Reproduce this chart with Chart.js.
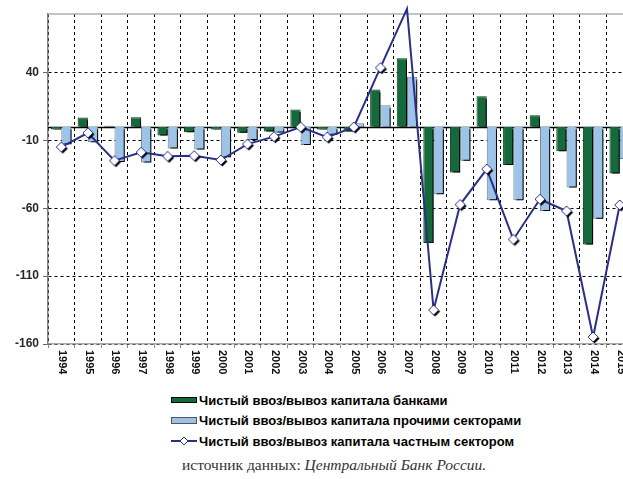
<!DOCTYPE html>
<html>
<head>
<meta charset="utf-8">
<script src="https://cdn.jsdelivr.net/npm/chart.js@4.4.1/dist/chart.umd.min.js"></script>
<style>
html,body{margin:0;padding:0;background:#fff;overflow:hidden;width:623px;height:479px;}
#wrap{position:absolute;left:0;top:0;width:640px;height:390px;}
#legend{position:absolute;left:171px;top:390px;font:bold 13px "Liberation Sans",Arial,sans-serif;color:#000;}
.row{height:20.5px;display:flex;align-items:center;white-space:nowrap;}
.sw{width:26px;margin-right:2px;box-sizing:border-box;}
#src{position:absolute;left:182px;top:456px;font:15.5px "Liberation Serif","Times New Roman",serif;color:#333;white-space:nowrap;}
#src i{font-style:italic;}
</style>
</head>
<body>
<div id="wrap"><canvas id="c" width="640" height="390"></canvas></div>
<div id="legend"></div>
<div id="src">источник данных: <i>Центральный Банк России.</i></div>
<script>
const years = ["1994","1995","1996","1997","1998","1999","2000","2001","2002","2003","2004","2005","2006","2007","2008","2009","2010","2011","2012","2013","2014","2015"];
const banks = [-2, 6.7, 0.7, 7, -6.5, -4, -2, -4.5, -3.5, 12.6, -2, -3.5, 27.4, 50.4, -85.6, -33.7, 22.5, -28.2, 8.4, -18.1, -86.8, -34.4];
const others = [-13, -11.4, -26, -26.3, -16, -16.8, -22.5, -9.7, -4.2, -13.4, -6, 2.5, 15.8, 36.8, -49.7, -25, -54.2, -54.2, -62, -44.8, -67.8, -23.8];
const privateSector = [-15, -4.5, -25, -18.8, -21.8, -21.3, -24.5, -12.8, -7.3, -0.3, -7.7, -0.3, 43.5, 86.8, -135, -57.3, -31.2, -83, -53.4, -62.1, -154.8, -57.6];
const yTicks = [40, -10, -60, -110, -160];
const labels = {
  banks: "Чистый ввоз/вывоз капитала банками",
  others: "Чистый ввоз/вывоз капитала прочими секторами",
  priv: "Чистый ввоз/вывоз капитала частным сектором"
};

const GREEN = '#15693a', BLUE = '#9dc3e6', NAVY = '#2b2f86';

function makeDiamond(){
  const c = document.createElement('canvas'); c.width = 18; c.height = 18;
  const g = c.getContext('2d');
  const d = (cx, cy, r) => { g.beginPath(); g.moveTo(cx, cy-r); g.lineTo(cx+r, cy); g.lineTo(cx, cy+r); g.lineTo(cx-r, cy); g.closePath(); };
  d(10.5, 10.5, 5); g.fillStyle = '#000'; g.fill();
  d(9, 9, 5); g.fillStyle = '#fff'; g.fill(); g.lineWidth = 1; g.strokeStyle = NAVY; g.stroke();
  return c;
}
const diamond = makeDiamond();

const shadowPlugin = {
  id: 'shadow',
  beforeDatasetDraw(chart, args){
    if (args.meta.type === 'bar') {
      const ctx = chart.ctx; ctx.save();
      ctx.shadowColor = '#000'; ctx.shadowOffsetX = 2.5; ctx.shadowOffsetY = 2.5; ctx.shadowBlur = 0;
    }
  },
  afterDatasetDraw(chart, args){
    if (args.meta.type === 'bar') chart.ctx.restore();
  }
};

const framePlugin = {
  id: 'frame',
  beforeDatasetsDraw(chart){
    const {ctx, chartArea: a, scales: {y}} = chart;
    ctx.save();
    ctx.strokeStyle = '#b0b0b0'; ctx.lineWidth = 1.5;
    ctx.beginPath(); ctx.moveTo(a.left, a.top); ctx.lineTo(a.right, a.top); ctx.lineTo(a.right, a.bottom); ctx.stroke();
    const y0 = Math.round(y.getPixelForValue(0)) + 0.5;
    ctx.strokeStyle = '#000'; ctx.lineWidth = 1.3;
    ctx.beginPath(); ctx.moveTo(a.left, y0); ctx.lineTo(a.right, y0); ctx.stroke();
    ctx.restore();
  },
  afterDraw(chart){
    const {ctx, chartArea: a, scales: {x}} = chart;
    ctx.save();
    ctx.font = 'bold 11px "Liberation Sans", Arial, sans-serif';
    ctx.fillStyle = '#111';
    ctx.textAlign = 'left'; ctx.textBaseline = 'middle';
    years.forEach((yr, i) => {
      const px = x.getPixelForValue(i);
      ctx.save(); ctx.translate(px + 1, a.bottom + 6); ctx.rotate(Math.PI / 2);
      ctx.fillText(yr, 0, 0); ctx.restore();
    });
    ctx.restore();
  }
};

const chart = new Chart(document.getElementById('c'), {
  data: {
    labels: years,
    datasets: [
      { type: 'line', label: labels.priv, data: privateSector, borderColor: NAVY, borderWidth: 2,
        pointStyle: diamond, pointRadius: 2, pointHoverRadius: 0, pointBorderWidth: 0, pointHitRadius: 4,
        tension: 0, clip: false, order: 0 },
      { type: 'bar', label: labels.banks, data: banks, backgroundColor: GREEN, borderColor: '#0a3a1a', borderWidth: 1,
        categoryPercentage: 0.77, barPercentage: 1, order: 1 },
      { type: 'bar', label: labels.others, data: others, backgroundColor: BLUE, borderColor: '#6f7f8f', borderWidth: 1,
        categoryPercentage: 0.77, barPercentage: 1, order: 1 }
    ]
  },
  options: {
    responsive: false,
    animation: false,
    layout: { padding: { top: 14, right: 7, left: 0, bottom: 0 } },
    plugins: { legend: { display: false }, tooltip: { enabled: false } },
    scales: {
      x: {
        offset: true,
        grid: { display: true, offset: true, color: '#000', lineWidth: 1, tickLength: 4, tickColor: '#888' },
        border: { display: true, color: '#a8a8a8', width: 1.5, dash: [3, 3] },
        ticks: { display: false },
        afterFit(s){ s.height = 46; }
      },
      y: {
        min: -160, max: 83,
        afterBuildTicks(s){ s.ticks = yTicks.map(v => ({ value: v })); },
        grid: { color: '#000', lineWidth: 1, tickLength: 5, tickColor: '#666' },
        border: { display: true, color: '#808080', width: 1.5, dash: [3, 3] },
        ticks: { padding: 4, color: '#2a2a2a', font: { family: '"Liberation Sans", Arial, sans-serif', size: 12, weight: 'bold' } },
        afterFit(s){ s.width = 48; }
      }
    }
  },
  plugins: [shadowPlugin, framePlugin]
});

const lg = document.getElementById('legend');
[1, 2, 0].forEach(i => {
  const ds = chart.data.datasets[i];
  const row = document.createElement('div'); row.className = 'row';
  const sw = document.createElement('div'); sw.className = 'sw';
  if (ds.type === 'bar') {
    sw.style.height = (i === 1 ? 6 : 7) + 'px';
    sw.style.background = ds.backgroundColor;
    sw.style.border = '1px solid ' + (i === 1 ? '#000' : '#555');
  } else {
    sw.style.height = '12px';
    sw.innerHTML = '<svg width="26" height="12"><line x1="0" y1="6" x2="26" y2="6" stroke="' + NAVY + '" stroke-width="2"/><path d="M13 2 L17 6 L13 10 L9 6 Z" fill="#fff" stroke="' + NAVY + '" stroke-width="1"/></svg>';
  }
  const t = document.createElement('span'); t.textContent = ds.label;
  row.appendChild(sw); row.appendChild(t); lg.appendChild(row);
});
</script>
</body>
</html>
